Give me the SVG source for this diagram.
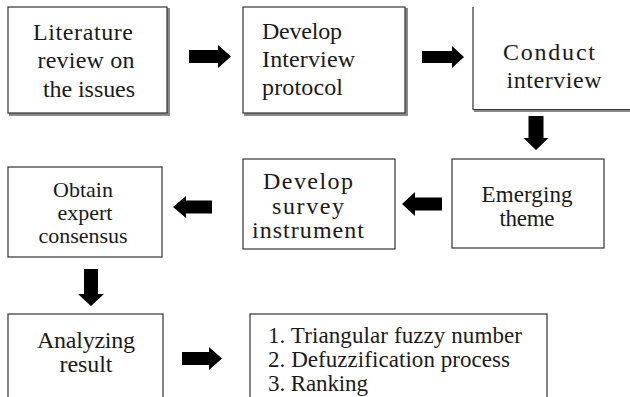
<svg xmlns="http://www.w3.org/2000/svg" width="630" height="397" viewBox="0 0 630 397">
<style>
  .box { fill: #fff; stroke: #333; stroke-width: 1.2; }
  .shadow { fill: none; stroke: #8a8a8a; stroke-width: 3; }
  .t { font-family: "Liberation Serif", "Times New Roman", serif; font-size: 24px; fill: #1a1a1a; }
  .m { text-anchor: middle; }
  .s22 { font-size: 22px; }
  .s23 { font-size: 23px; }
  .arr { fill: #000; }
</style>
<rect width="630" height="397" fill="#fff"/>

<g id="n1">
  <path class="shadow" d="M9,114.5 H168.5 V8"/>
  <rect class="box" x="8" y="7" width="159" height="106"/>
  <text class="t m" x="83" y="40" textLength="100" lengthAdjust="spacing">Literature</text>
  <text class="t m" x="86" y="68" textLength="97" lengthAdjust="spacing">review on</text>
  <text class="t m" x="89" y="97" textLength="92" lengthAdjust="spacing">the issues</text>
</g>

<g id="n2">
  <path class="shadow" d="M244,114.5 H406.5 V8"/>
  <rect class="box" x="243" y="7" width="162" height="106"/>
  <text class="t" x="262" y="39" textLength="80" lengthAdjust="spacing">Develop</text>
  <text class="t" x="262" y="67" textLength="93" lengthAdjust="spacing">Interview</text>
  <text class="t" x="262" y="95" textLength="81" lengthAdjust="spacing">protocol</text>
</g>

<g id="n3">
  <path class="shadow" d="M474,110.5 H630"/>
  <path class="box" fill="none" d="M473,7 V109.5 H630"/>
  <text class="t m" x="549" y="60" textLength="92" lengthAdjust="spacing">Conduct</text>
  <text class="t m" x="554" y="88" textLength="95" lengthAdjust="spacing">interview</text>
</g>

<g id="n4">
  <rect class="box" x="452" y="159" width="152" height="89"/>
  <text class="t m s23" x="527" y="202" textLength="91" lengthAdjust="spacing">Emerging</text>
  <text class="t m s23" x="527" y="226" textLength="55" lengthAdjust="spacing">theme</text>
</g>

<g id="n5">
  <rect class="box" x="243" y="159" width="152" height="90"/>
  <text class="t m" x="308" y="189" textLength="90" lengthAdjust="spacing">Develop</text>
  <text class="t m" x="308" y="214" textLength="72" lengthAdjust="spacing">survey</text>
  <text class="t m" x="308" y="238" textLength="112" lengthAdjust="spacing">instrument</text>
</g>

<g id="n6">
  <rect class="box" x="8" y="167" width="154" height="90"/>
  <text class="t m s22" x="83" y="197">Obtain</text>
  <text class="t m s22" x="85" y="220">expert</text>
  <text class="t m s22" x="83" y="243">consensus</text>
</g>

<g id="n7">
  <rect class="box" x="8" y="314" width="155" height="100"/>
  <text class="t m" x="86" y="348" textLength="98" lengthAdjust="spacing">Analyzing</text>
  <text class="t m" x="86" y="372" textLength="53" lengthAdjust="spacing">result</text>
</g>

<g id="n8">
  <rect class="box" x="250" y="314" width="297" height="100"/>
  <text class="t s23" x="268" y="343" textLength="254" lengthAdjust="spacing">1. Triangular fuzzy number</text>
  <text class="t s23" x="268" y="367" textLength="242" lengthAdjust="spacing">2. Defuzzification process</text>
  <text class="t s23" x="268" y="391" textLength="100" lengthAdjust="spacing">3. Ranking</text>
</g>

<g id="connectors">
  <polygon class="arr" points="189,50 218,50 218,45 231,56.5 218,68 218,63 189,63"/>
  <polygon class="arr" points="422,51 452,51 452,46 464,57 452,68 452,63 422,63"/>
  <polygon class="arr" points="528.5,116 543.5,116 543.5,138 548.5,138 536,150 523.5,138 528.5,138"/>
  <polygon class="arr" points="442,197.5 415,197.5 415,192 402,204 415,216 415,210.5 442,210.5"/>
  <polygon class="arr" points="212,200.5 186,200.5 186,196 173,207 186,218 186,213.5 212,213.5"/>
  <polygon class="arr" points="84,269 98,269 98,294 104,294 91,306 78,294 84,294"/>
  <polygon class="arr" points="182,352 209,352 209,347 222,358.5 209,370 209,365 182,365"/>
</g>
</svg>
